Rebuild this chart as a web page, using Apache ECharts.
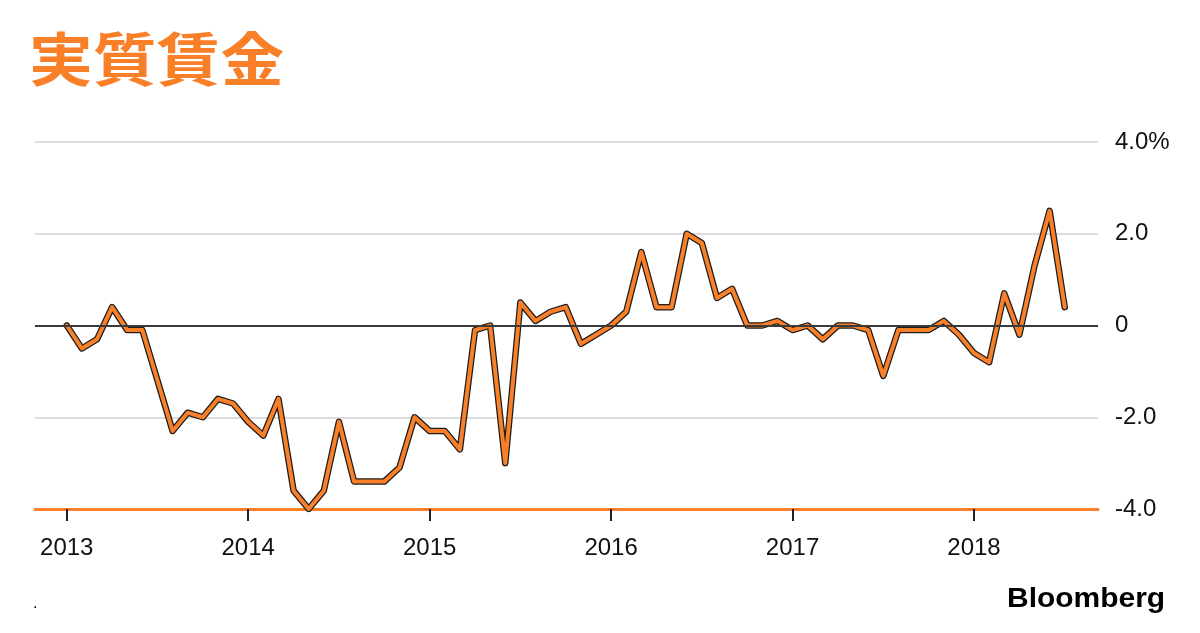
<!DOCTYPE html>
<html><head><meta charset="utf-8">
<script src="https://cdn.jsdelivr.net/npm/echarts@6/dist/echarts.min.js"></script>
<style>html,body{margin:0;padding:0;background:#fff}#c{width:1200px;height:633px}</style>
</head><body><div id="c"></div>
<script>
const titleText = '実質賃金';
const sourceText = 'Bloomberg';
const footNote = '.';
const startYear = 2013;
const yearTicks = [0, 12, 24, 36, 48, 60]; // month index of each January
const v2013 = [0.0, -0.5, -0.3, 0.4, -0.1, -0.1, -1.2, -2.3, -1.9, -2.0, -1.6, -1.7];
const v2014 = [-2.1, -2.4, -1.6, -3.6, -4.0, -3.6, -2.1, -3.4, -3.4, -3.4, -3.1, -2.0];
const v2015 = [-2.3, -2.3, -2.7, -0.1, 0.0, -3.0, 0.5, 0.1, 0.3, 0.4, -0.4, -0.2];
const v2016 = [0.0, 0.3, 1.6, 0.4, 0.4, 2.0, 1.8, 0.6, 0.8, 0.0, 0.0, 0.1];
const v2017 = [-0.1, 0.0, -0.3, 0.0, 0.0, -0.1, -1.1, -0.1, -0.1, -0.1, 0.1, -0.2];
const v2018 = [-0.6, -0.8, 0.7, -0.2, 1.3, 2.5, 0.4];

const allVals = [].concat(v2013, v2014, v2015, v2016, v2017, v2018);
const seriesData = allVals.map((v, i) => [i, v]);

const ORANGE = '#f98028';
const LABEL_FONT = 'Liberation Sans, Arial, sans-serif';
const chart = echarts.init(document.getElementById('c'), null, {renderer: 'canvas'});
chart.setOption({
  animation: false,
  backgroundColor: '#fff',
  grid: {left: 35, right: 102, top: 142, bottom: 124, containLabel: false},
  xAxis: {
    type: 'value', min: -2.1, max: 68.2,
    splitLine: {show: false},
    axisLine: {show: true, onZero: false, lineStyle: {color: ORANGE, width: 3}},
    axisTick: {show: true, customValues: yearTicks, length: 12, lineStyle: {color: '#222', width: 2}},
    axisLabel: {
      customValues: yearTicks, margin: 27, color: '#111', fontSize: 24,
      fontFamily: LABEL_FONT,
      formatter: v => String(startYear + Math.round(v / 12))
    }
  },
  yAxis: {
    type: 'value', position: 'right', min: -4, max: 4, interval: 2,
    axisLine: {show: false}, axisTick: {show: false},
    splitLine: {show: true, lineStyle: {color: '#dcdcdc', width: 2}},
    axisLabel: {
      margin: 17, color: '#111', fontSize: 24,
      fontFamily: LABEL_FONT,
      formatter: v => v === 4 ? '4.0%' : (v === 0 ? '0' : v.toFixed(1))
    }
  },
  series: [
    {
      type: 'line', data: seriesData, symbol: 'none', z: 2, silent: true,
      lineStyle: {color: '#1c1c1c', width: 6.5, join: 'round', cap: 'round'},
      markLine: {
        silent: true, symbol: 'none', label: {show: false},
        lineStyle: {color: '#3a3a3a', width: 2, type: 'solid'},
        data: [{yAxis: 0}]
      }
    },
    {
      type: 'line', data: seriesData, symbol: 'none', z: 3, silent: true,
      lineStyle: {color: ORANGE, width: 4, join: 'round', cap: 'round'}
    }
  ],
  graphic: [
    {type: 'text', left: 29, top: 30, scaleX: 1.1, style: {text: titleText, fill: ORANGE,
      font: 'bold 58px "Noto Sans CJK JP", sans-serif'}},
    {type: 'text', left: 1007, top: 586, scaleX: 1.11, style: {text: sourceText, fill: '#000',
      font: 'bold 27px "Liberation Sans", Arial, sans-serif'}},
    {type: 'text', left: 33, top: 596, style: {text: footNote, fill: '#000',
      font: '16px "Liberation Sans", Arial, sans-serif'}}
  ]
});
</script>
</body></html>
